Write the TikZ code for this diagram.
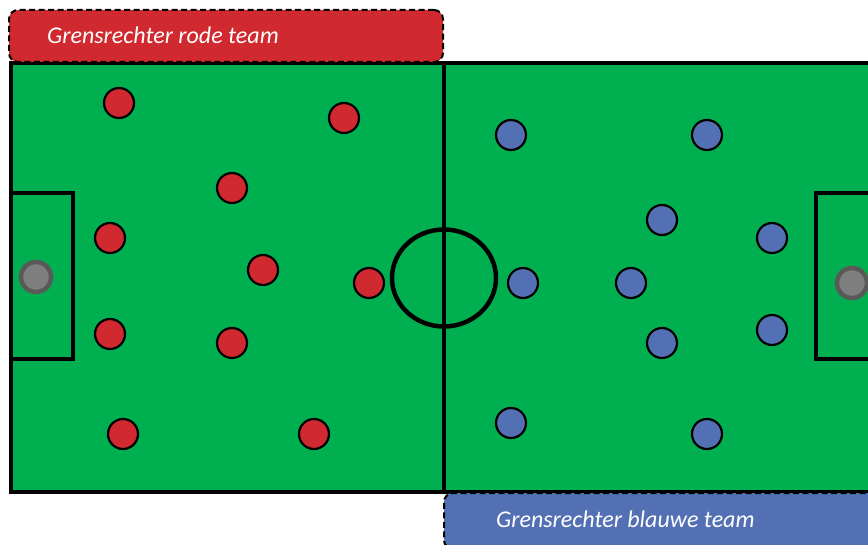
\documentclass[tikz,border=0pt]{standalone}
\usepackage{fontspec}
\setmainfont{Carlito}
\usetikzlibrary{shapes.geometric}
\begin{document}
\begin{tikzpicture}[x=1pt,y=-1pt,
  pitchline/.style={draw=black,line width=4.5pt},
  redp/.style={circle,draw=black,line width=2.2pt,fill=redc,minimum size=30pt,inner sep=0pt},
  bluep/.style={circle,draw=black,line width=2.2pt,fill=bluec,minimum size=30pt,inner sep=0pt},
  keeper/.style={circle,draw=keeperb,line width=4.5pt,fill=keeperf,minimum size=30pt,inner sep=0pt},
  labelbox/.style={draw=black,dash pattern=on 6pt off 3.5pt,line width=2pt,rounded corners=9pt},
  labeltext/.style={text=white,font=\fontsize{24}{28}\selectfont\itshape,anchor=west,inner sep=0pt}]
\definecolor{fieldg}{HTML}{00B050}
\definecolor{redc}{HTML}{D0292F}
\definecolor{bluec}{HTML}{5470B4}
\definecolor{keeperf}{HTML}{7F7F7F}
\definecolor{keeperb}{HTML}{595959}
\useasboundingbox (0,0) rectangle (868,545);
% field
\fill[fieldg] (11,63) rectangle (872,492);
\draw[pitchline,line cap=rect] (872,63) -- (11,63) -- (11,492) -- (444,492);
\draw[pitchline] (444,492) -- (872,492);
\draw[pitchline] (444,63) -- (444,492);
\draw[pitchline] (11,193) -- (73,193) -- (73,359) -- (11,359);
\draw[pitchline] (872,193) -- (816,193) -- (816,359) -- (872,359);
\node[pitchline,ellipse,minimum width=104pt,minimum height=97pt,inner sep=0pt] (cc) at (444,278) {};
% label boxes
\node[labelbox,fill=redc,minimum width=434pt,minimum height=52pt,inner sep=0pt] (rbox) at (226,36) {};
\node[labeltext] (rtext) at (47,35) {Grensrechter rode team};
\node[labelbox,fill=bluec,minimum width=440pt,minimum height=56pt,inner sep=0pt] (bbox) at (664,521) {};
\node[labeltext] (btext) at (496,519) {Grensrechter blauwe team};
% keepers
\node[keeper] (kl) at (36,277) {};
\node[keeper] (kr) at (852,283) {};
% red team
\node[redp] (r1) at (119,103) {};
\node[redp] (r2) at (344,118) {};
\node[redp] (r3) at (232,188) {};
\node[redp] (r4) at (110,238) {};
\node[redp] (r5) at (263,270) {};
\node[redp] (r6) at (369,283) {};
\node[redp] (r7) at (110,334) {};
\node[redp] (r8) at (232,343) {};
\node[redp] (r9) at (123,434) {};
\node[redp] (r10) at (314,434) {};
% blue team
\node[bluep] (b1) at (511,135) {};
\node[bluep] (b2) at (707,135) {};
\node[bluep] (b3) at (662,220) {};
\node[bluep] (b4) at (772,238) {};
\node[bluep] (b5) at (523,283) {};
\node[bluep] (b6) at (631,283) {};
\node[bluep] (b7) at (662,343) {};
\node[bluep] (b8) at (772,330) {};
\node[bluep] (b9) at (511,423) {};
\node[bluep] (b10) at (707,434) {};
\end{tikzpicture}
\end{document}
